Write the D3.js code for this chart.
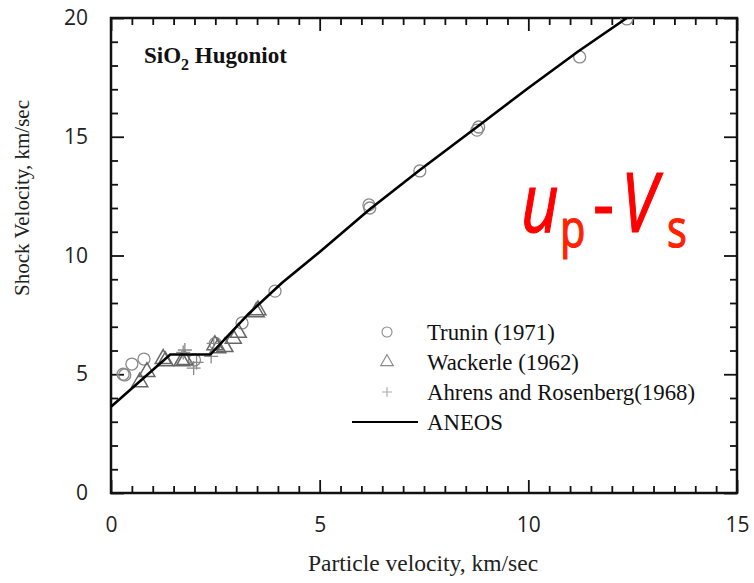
<!DOCTYPE html>
<html><head><meta charset="utf-8">
<script src="https://cdn.jsdelivr.net/npm/d3@7"></script>
<style>
html,body{margin:0;padding:0;background:#fff;}
svg{display:block;}
</style></head>
<body>
<svg id="chart" width="754" height="583"></svg>
<script>
// ---- data ----
const truninUp = [0.29, 0.33, 0.5, 0.79, 2.0, 2.5, 3.14, 3.93, 6.18, 6.2, 7.4, 8.77, 8.81, 11.23, 12.36];
const truninUs = [5.0, 4.97, 5.43, 5.64, 5.6, 6.3, 7.16, 8.5, 12.13, 12.0, 13.56, 15.28, 15.41, 18.36, 19.96];
const wackerleUp = [0.69, 0.86, 1.25, 1.3, 1.7, 1.77, 2.49, 2.56, 2.73, 2.93, 3.05, 3.48, 3.52];
const wackerleUs = [4.67, 5.1, 5.65, 5.55, 5.55, 5.6, 6.23, 6.1, 6.15, 6.5, 6.75, 7.62, 7.7];
const ahrensUp = [1.73, 1.77, 1.98, 2.05, 2.4, 2.46];
const ahrensUs = [5.92, 6.02, 5.26, 5.5, 5.75, 6.3];
const aneosUp = [0, 1.42, 2.38, 3.3, 4.1, 5.0, 6.2, 7.4, 8.8, 10.0, 11.2, 12.36];
const aneosUs = [3.63, 5.83, 5.83, 7.55, 8.85, 10.15, 11.95, 13.6, 15.45, 17.05, 18.6, 20.0];
const xTicks = [0, 5, 10, 15];
const yTicks = [0, 5, 10, 15, 20];
const legendLabels = ["Trunin (1971)", "Wackerle (1962)", "Ahrens and Rosenberg(1968)", "ANEOS"];

// ---- layout ----
const L = 111, R = 737, T = 18, B = 493;
const svg = d3.select("#chart");
const x = d3.scaleLinear().domain([0, 15]).range([L, R]);
const y = d3.scaleLinear().domain([0, 20]).range([B, T]);

const tickStyle = g => {
  g.selectAll(".domain").remove();
  g.selectAll(".tick line").attr("stroke", "#111").attr("stroke-width", 1.8);
};
const minorX = d3.range(0, 15.01, 0.5).filter(v => v % 5 !== 0);
const minorY = d3.range(0, 20.01, 1).filter(v => v % 5 !== 0);

// bottom
svg.append("g").attr("transform", `translate(0,${B})`)
  .call(d3.axisBottom(x).tickValues(minorX).tickSize(-7).tickFormat("")).call(tickStyle);
svg.append("g").attr("transform", `translate(0,${B})`)
  .call(d3.axisBottom(x).tickValues(xTicks).tickSize(-13).tickPadding(24).tickFormat(d3.format("d")))
  .call(tickStyle)
  .call(g => g.selectAll("text").attr("font-family", "'Open Sans', sans-serif").attr("font-size", 21).attr("fill", "#222"));
// top
svg.append("g").attr("transform", `translate(0,${T})`)
  .call(d3.axisTop(x).tickValues(minorX).tickSize(-7).tickFormat("")).call(tickStyle);
svg.append("g").attr("transform", `translate(0,${T})`)
  .call(d3.axisTop(x).tickValues(xTicks).tickSize(-13).tickFormat("")).call(tickStyle);
// left
svg.append("g").attr("transform", `translate(${L},0)`)
  .call(d3.axisLeft(y).tickValues(minorY).tickSize(-7).tickFormat("")).call(tickStyle);
svg.append("g").attr("transform", `translate(${L},0)`)
  .call(d3.axisLeft(y).tickValues(yTicks).tickSize(-13).tickPadding(23).tickFormat(d3.format("d")))
  .call(tickStyle)
  .call(g => g.selectAll("text").attr("font-family", "'Open Sans', sans-serif").attr("font-size", 21).attr("fill", "#222"));
// right
svg.append("g").attr("transform", `translate(${R},0)`)
  .call(d3.axisRight(y).tickValues(minorY).tickSize(-7).tickFormat("")).call(tickStyle);
svg.append("g").attr("transform", `translate(${R},0)`)
  .call(d3.axisRight(y).tickValues(yTicks).tickSize(-13).tickFormat("")).call(tickStyle);

// frame
svg.append("rect").attr("x", L).attr("y", T).attr("width", R - L).attr("height", B - T)
  .attr("fill", "none").attr("stroke", "#111").attr("stroke-width", 2.5);

// clip
svg.append("clipPath").attr("id", "clip").append("rect")
  .attr("x", L).attr("y", T).attr("width", R - L).attr("height", B - T);

const markerColor = "#8a8a8a";
const plot = svg.append("g").attr("clip-path", "url(#clip)");

// Trunin circles
plot.selectAll(".tr").data(truninUp.map((u, i) => [u, truninUs[i]])).join("circle")
  .attr("cx", d => x(d[0])).attr("cy", d => y(d[1])).attr("r", 6)
  .attr("fill", "none").attr("stroke", markerColor).attr("stroke-width", 1.3);
// Wackerle triangles
const triPath = d3.symbol().type(d3.symbolTriangle).size(110);
plot.selectAll(".wa").data(wackerleUp.map((u, i) => [u, wackerleUs[i]])).join("path")
  .attr("d", triPath).attr("transform", d => `translate(${x(d[0])},${y(d[1])})`)
  .attr("fill", "none").attr("stroke", "#666").attr("stroke-width", 1.5);
// Ahrens crosses
const crossPath = "M-7,0H7M0,-7V7";
plot.selectAll(".ah").data(ahrensUp.map((u, i) => [u, ahrensUs[i]])).join("path")
  .attr("d", crossPath).attr("transform", d => `translate(${x(d[0])},${y(d[1])})`)
  .attr("fill", "none").attr("stroke", markerColor).attr("stroke-width", 1.3);
// ANEOS line
const line = d3.line().x(d => x(d[0])).y(d => y(d[1]));
plot.append("path").datum(aneosUp.map((u, i) => [u, aneosUs[i]]))
  .attr("d", line).attr("fill", "none").attr("stroke", "#000").attr("stroke-width", 2.6);

// Legend
const serif = "'Liberation Serif', 'Times New Roman', serif";
const lg = svg.append("g");
const lgY = [332, 362, 392, 422];
const legTri = d3.symbol().type(d3.symbolTriangle).size(70);
lg.append("circle").attr("cx", 387).attr("cy", lgY[0]).attr("r", 5).attr("fill", "none").attr("stroke", markerColor).attr("stroke-width", 1.1);
lg.append("path").attr("d", legTri).attr("transform", `translate(387,${lgY[1]})`).attr("fill", "none").attr("stroke", markerColor).attr("stroke-width", 1.1);
lg.append("path").attr("d", "M-5,0H5M0,-5V5").attr("transform", `translate(387,${lgY[2]})`).attr("fill", "none").attr("stroke", "#aaa").attr("stroke-width", 1.1);
lg.append("line").attr("x1", 352).attr("x2", 418).attr("y1", lgY[3]).attr("y2", lgY[3]).attr("stroke", "#000").attr("stroke-width", 2.2);
lg.selectAll("text").data(legendLabels).join("text")
  .attr("x", 427).attr("y", (d, i) => lgY[i] + 8)
  .attr("font-family", serif).attr("font-size", 22.8).attr("fill", "#111").text(d => d);

// Inner title
const t = svg.append("text").attr("x", 144).attr("y", 63)
  .attr("font-family", serif).attr("font-size", 23).attr("font-weight", "bold").attr("fill", "#111");
t.append("tspan").text("SiO");
t.append("tspan").attr("dy", 7).attr("font-size", 16).text("2");
t.append("tspan").attr("dy", -7).text(" Hugoniot");

// Axis titles
svg.append("text").attr("x", 423).attr("y", 571).attr("text-anchor", "middle")
  .attr("font-family", serif).attr("font-size", 23.5).attr("fill", "#222")
  .text("Particle  velocity, km/sec");
svg.append("text").attr("transform", "translate(29,198) rotate(-90)").attr("text-anchor", "middle")
  .attr("font-family", serif).attr("font-size", 21).attr("fill", "#222")
  .text("Shock Velocity, km/sec");

// Red annotation (u_p - V_s), horizontally condensed
const sans = "'Open Sans', 'Noto Sans', sans-serif";
const red = "#ff0000", red2 = "#ff2200";
const sx = 0.8;
const ann = svg.append("g").attr("transform", `translate(521,0) scale(${sx},1)`)
  .append("text").attr("font-family", sans).attr("fill", red)
  .attr("stroke", red).attr("stroke-width", 1.2);
ann.append("tspan").attr("x", 0).attr("y", 232).attr("font-size", 82).attr("font-style", "italic").text("u");
ann.append("tspan").attr("x", (560 - 521) / sx).attr("y", 247).attr("font-size", 52).attr("fill", red2).attr("stroke", red2).text("p");
ann.append("tspan").attr("x", (593 - 521) / sx).attr("y", 232).attr("font-size", 82).text("-");
ann.append("tspan").attr("x", (621 - 521) / sx).attr("y", 232).attr("font-size", 82).attr("font-style", "italic").text("V");
ann.append("tspan").attr("x", (667 - 521) / sx).attr("y", 247).attr("font-size", 52).attr("fill", red2).attr("stroke", red2).text("s");
</script>
</body></html>
